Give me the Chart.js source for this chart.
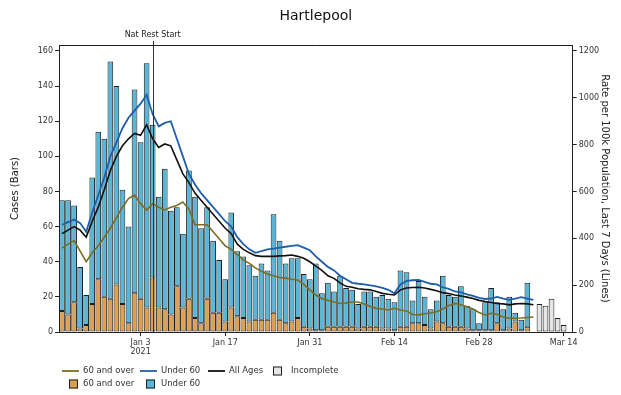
<!DOCTYPE html>
<html>
<head>
<meta charset="utf-8">
<script src="https://cdn.jsdelivr.net/npm/chart.js@4"></script>
<style>
html,body{margin:0;padding:0;background:#fff;}
#wrap{width:621px;height:395px;}
</style>
</head>
<body>
<div id="wrap"><canvas id="c" width="621" height="395"></canvas></div>
<script>
const days = [
 'Dec 21','Dec 22','Dec 23','Dec 24','Dec 25','Dec 26','Dec 27','Dec 28','Dec 29','Dec 30','Dec 31',
 'Jan 1','Jan 2','Jan 3','Jan 4','Jan 5','Jan 6','Jan 7','Jan 8','Jan 9','Jan 10','Jan 11','Jan 12','Jan 13','Jan 14','Jan 15','Jan 16','Jan 17','Jan 18','Jan 19','Jan 20','Jan 21','Jan 22','Jan 23','Jan 24','Jan 25','Jan 26','Jan 27','Jan 28','Jan 29','Jan 30','Jan 31',
 'Feb 1','Feb 2','Feb 3','Feb 4','Feb 5','Feb 6','Feb 7','Feb 8','Feb 9','Feb 10','Feb 11','Feb 12','Feb 13','Feb 14','Feb 15','Feb 16','Feb 17','Feb 18','Feb 19','Feb 20','Feb 21','Feb 22','Feb 23','Feb 24','Feb 25','Feb 26','Feb 27','Feb 28',
 'Mar 1','Mar 2','Mar 3','Mar 4','Mar 5','Mar 6','Mar 7','Mar 8','Mar 9','Mar 10','Mar 11','Mar 12','Mar 13','Mar 14','Mar 15'
];
const xTickLabels = ['Jan 3','Jan 17','Jan 31','Feb 14','Feb 28','Mar 14'];
const xTickSecondLine = {'Jan 3':'2021'};
const leftTicks = [0,20,40,60,80,100,120,140,160];
const rightTicks = [0,200,400,600,800,1000,1200];
const eventLabel = 'Nat Rest Start';
const eventDay = 'Jan 5';

// Cases (bars), stacked: 60 and over at bottom, under 60 above
const over60Cases = [12,10,17,2,4,16,30,20,19,27,16,5,22,19,14,31,14,13,10,26,14,19,8,5,19,11,11,6,14,9,8,6,7,7,7,11,7,5,6,8,3,2,1,1,3,3,3,3,3,2,3,3,3,2,2,1,3,3,5,5,4,2,6,5,3,3,3,2,1,1,1,1,5,1,2,6,1,3,null];
const under60Cases = [63,65,55,35,17,72,84,90,135,113,65,55,116,89,139,87,63,80,59,45,42,73,69,54,52,41,30,24,54,37,35,32,25,32,28,56,45,34,36,34,30,28,38,21,25,20,29,22,21,14,20,20,17,19,17,16,32,31,13,24,16,11,12,27,18,17,23,13,12,4,16,24,12,12,18,5,6,25,null];
const incompleteCases = [null,null,null,null,null,null,null,null,null,null,null,null,null,null,null,null,null,null,null,null,null,null,null,null,null,null,null,null,null,null,null,null,null,null,null,null,null,null,null,null,null,null,null,null,null,null,null,null,null,null,null,null,null,null,null,null,null,null,null,null,null,null,null,null,null,null,null,null,null,null,null,null,null,null,null,null,null,null,null,16,15,19,8,4];

// Rate per 100k, last 7 days (lines)
const rateOver60 = [358,375,390,345,300,338,368,405,443,488,533,570,585,548,521,548,533,521,533,540,555,525,458,458,458,428,398,368,353,330,308,293,274,259,248,240,233,230,225,222,203,180,158,143,135,128,122,124,128,128,120,109,101,98,94,101,94,90,75,73,78,81,87,98,113,122,116,108,98,83,73,80,75,64,59,59,60,62,64];
const rateUnder60 = [458,469,480,465,428,510,585,660,750,810,870,915,945,975,1013,930,878,893,900,825,750,675,630,593,563,533,503,473,450,405,375,353,338,345,353,356,360,364,368,371,360,349,323,300,278,263,240,225,210,206,203,199,195,188,180,165,203,218,221,222,214,206,203,191,184,173,169,161,154,146,141,143,150,143,137,143,149,143,137];
const rateAll = [420,435,450,435,405,473,533,608,690,750,795,825,848,840,885,825,788,803,795,735,675,638,593,563,533,503,473,443,420,375,353,338,326,323,323,323,325,326,329,323,315,300,281,263,240,229,210,195,191,185,182,180,173,165,161,158,180,188,190,191,188,182,176,168,164,158,154,149,143,135,130,126,122,120,116,120,122,120,116];

const FONT = "'DejaVu Sans', 'Liberation Sans', sans-serif";
const C_ORANGE = '#dea051';
const C_TEAL = '#58b6d8';
const C_INC = '#e6e6e6';
const C_OLIVE = '#7a6c22';
const C_BLUE = '#1d5fac';
const C_BLACK = '#111111';
const C_EDGE = '#1e1e1e';

const overlayPlugin = {
  id: 'overlay',
  afterDatasetsDraw(chart) {
    const ctx = chart.ctx, a = chart.chartArea, xs = chart.scales.x;
    const ex = xs.getPixelForValue(days.indexOf(eventDay));
    ctx.save();
    ctx.strokeStyle = '#333'; ctx.lineWidth = 1;
    ctx.beginPath(); ctx.moveTo(Math.round(ex)+0.5, a.top - 4); ctx.lineTo(Math.round(ex)+0.5, a.bottom); ctx.stroke();
    ctx.strokeStyle = '#222';
    ctx.beginPath(); ctx.moveTo(a.left, a.top + 0.5); ctx.lineTo(a.right, a.top + 0.5); ctx.stroke();
    ctx.restore();
  },
  afterDraw(chart) {
    const ctx = chart.ctx, a = chart.chartArea, xs = chart.scales.x;
    ctx.save();
    ctx.fillStyle = '#111';
    ctx.textAlign = 'center'; ctx.textBaseline = 'middle';
    ctx.font = '14px ' + FONT;
    ctx.fillText('Hartlepool', (a.left + a.right) / 2, 16);
    ctx.font = '8px ' + FONT;
    ctx.fillStyle = '#222';
    ctx.fillText(eventLabel, xs.getPixelForValue(days.indexOf(eventDay)), a.top - 10);
    // legend
    ctx.font = '8.5px ' + FONT;
    ctx.textAlign = 'left';
    const r1 = 371, r2 = 384;
    const lineItem = (x, y, col, txt) => {
      ctx.strokeStyle = col; ctx.lineWidth = 1.8;
      ctx.beginPath(); ctx.moveTo(x, y); ctx.lineTo(x + 17, y); ctx.stroke();
      ctx.fillStyle = '#333'; ctx.fillText(txt, x + 21, y);
    };
    const boxItem = (x, y, col, txt, tx) => {
      ctx.fillStyle = col; ctx.fillRect(x, y - 4.5, 9, 9);
      ctx.strokeStyle = C_EDGE; ctx.lineWidth = 1; ctx.strokeRect(x + 0.5, y - 4, 8, 8);
      ctx.fillStyle = '#333'; ctx.fillText(txt, tx, y);
    };
    lineItem(62, r1, C_OLIVE, '60 and over');
    lineItem(140, r1, C_BLUE, 'Under 60');
    lineItem(208, r1, C_BLACK, 'All Ages');
    boxItem(273, r1, C_INC, 'Incomplete', 291);
    boxItem(69, r2, C_ORANGE, '60 and over', 83);
    boxItem(146, r2, C_TEAL, 'Under 60', 161);
    ctx.restore();
  }
};

const barCommon = { yAxisID: 'y', borderColor: C_EDGE, borderWidth: 1, borderSkipped: false, categoryPercentage: 0.94, barPercentage: 1, stack: 's' };
const lineCommon = { type: 'line', yAxisID: 'y2', pointRadius: 0, tension: 0, fill: false, spanGaps: false };

new Chart(document.getElementById('c'), {
  type: 'bar',
  data: {
    labels: days,
    datasets: [
      Object.assign({ label: '60 and over', data: over60Cases, backgroundColor: C_ORANGE, order: 8 }, barCommon),
      Object.assign({ label: 'Under 60', data: under60Cases, backgroundColor: C_TEAL, order: 9 }, barCommon),
      Object.assign({ label: 'Incomplete', data: incompleteCases, backgroundColor: C_INC, order: 10 }, barCommon),
      Object.assign({ label: '60 and over', data: rateOver60, borderColor: C_OLIVE, borderWidth: 1.6, order: 3 }, lineCommon),
      Object.assign({ label: 'Under 60', data: rateUnder60, borderColor: C_BLUE, borderWidth: 1.8, order: 2 }, lineCommon),
      Object.assign({ label: 'All Ages', data: rateAll, borderColor: C_BLACK, borderWidth: 1.6, order: 1 }, lineCommon)
    ]
  },
  options: {
    responsive: false,
    animation: false,
    events: [],
    layout: { padding: { top: 45, left: 0, right: 0, bottom: 0 } },
    plugins: { legend: { display: false }, title: { display: false }, tooltip: { enabled: false } },
    scales: {
      x: {
        type: 'category', stacked: true, offset: true,
        grid: { display: true, drawOnChartArea: false, drawTicks: true, tickLength: 4, offset: false,
          tickColor: (c) => (c.tick && xTickLabels.includes(days[c.index])) ? '#222' : 'rgba(0,0,0,0)' },
        border: { display: true, color: '#222', width: 1 },
        ticks: { autoSkip: false, minRotation: 0, maxRotation: 0, padding: 2, color: '#333', font: { family: FONT, size: 8 },
          callback: (v, i) => { const l = days[i]; if (!xTickLabels.includes(l)) return ''; return xTickSecondLine[l] ? [l, xTickSecondLine[l]] : l; } },
        afterFit: (s) => { s.height = 63; }
      },
      y: {
        position: 'left', stacked: true, min: 0, max: 163.4,
        afterBuildTicks: (s) => { s.ticks = leftTicks.map(v => ({ value: v })); },
        grid: { drawOnChartArea: false, drawTicks: true, tickLength: 4, color: '#222' },
        border: { display: true, color: '#222', width: 1 },
        ticks: { padding: 2, color: '#333', font: { family: FONT, size: 8 }, callback: (v) => String(v) },
        title: { display: true, text: 'Cases (Bars)', color: '#222', font: { family: FONT, size: 10 }, padding: { top: 9, bottom: 0 } },
        afterFit: (s) => { s.width = 59; }
      },
      y2: {
        position: 'right', min: 0, max: 1225.5,
        afterBuildTicks: (s) => { s.ticks = rightTicks.map(v => ({ value: v })); },
        grid: { drawOnChartArea: false, drawTicks: true, tickLength: 4, color: '#222' },
        border: { display: true, color: '#222', width: 1 },
        ticks: { padding: 2, color: '#333', font: { family: FONT, size: 8 }, callback: (v) => String(v) },
        title: { display: true, text: 'Rate per 100k Population, Last 7 Days (Lines)', color: '#222', font: { family: FONT, size: 10 }, padding: { top: 10, bottom: 0 } },
        afterFit: (s) => { s.width = 48.3; }
      }
    }
  },
  plugins: [overlayPlugin]
});
</script>
</body>
</html>
